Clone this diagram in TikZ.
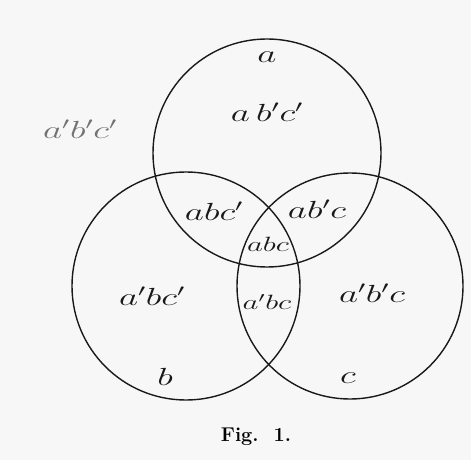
\documentclass[tikz,border=0pt]{standalone}
\usepackage{graphicx}
\usepackage{fontspec}
\newcommand{\wide}[1]{\scalebox{1.5}[1]{#1}}
\begin{document}
\begin{tikzpicture}[x=1bp,y=-1bp,
  circ/.style={draw=black!90, line width=1.4pt},
  lbl/.style={font=\fontsize{26}{30}\selectfont, text=black!90, inner sep=0pt},
  small/.style={font=\fontsize{21}{25}\selectfont, text=black!90, inner sep=0pt}]
\useasboundingbox (0,0) rectangle (471,460);
\fill[black!3] (0,0) rectangle (471,460);
\node[circ, circle, minimum size=228bp, inner sep=0pt] (A) at (267,153) {};
\node[circ, circle, minimum size=228bp, inner sep=0pt] (B) at (186,286) {};
\node[circ, circle, minimum size=226bp, inner sep=0pt] (C) at (350,286) {};
\node[lbl] (la) at (267,57) {\wide{$a$}};
\node[lbl] (abpcp) at (267,112) {\wide{$a\,b'c'$}};
\node[lbl, text=black!55] (apbpcp) at (80,129) {\wide{$a'b'c'$}};
\node[lbl] (abcp) at (214,211) {\wide{$abc'$}};
\node[lbl] (abpc) at (317,209) {\wide{$ab'c$}};
\node[small] (abc) at (268,244) {\wide{$abc$}};
\node[lbl] (apbcp) at (152,296) {\wide{$a'bc'$}};
\node[small] (apbc) at (267,302) {\wide{$a'bc$}};
\node[lbl] (apbpc) at (372,293) {\wide{$a'b'c$}};
\node[lbl] (lb) at (165,377) {\wide{$b$}};
\node[lbl] (lc) at (348,378) {\wide{$c$}};
\node[font=\fontsize{20}{24}\selectfont\bfseries, inner sep=0pt] (fig) at (256,437) {Fig.\ \ 1.};
\end{tikzpicture}
\end{document}
